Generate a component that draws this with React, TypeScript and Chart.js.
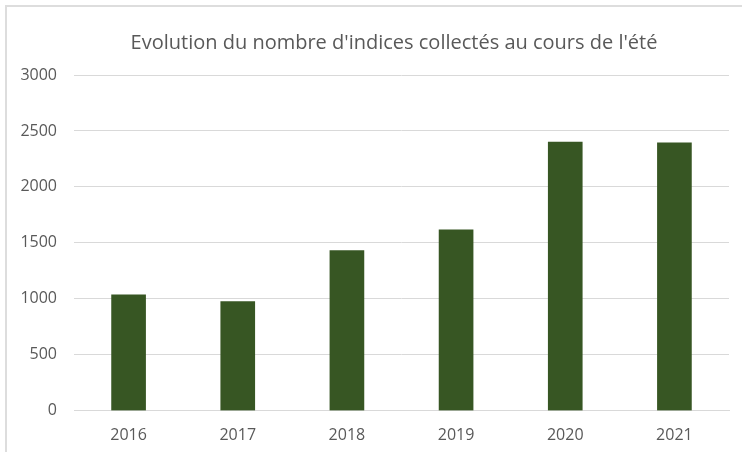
import React, { useEffect, useRef } from "react";
import { Chart, registerables } from "chart.js";

Chart.register(...registerables);

const titleText = "Evolution du nombre d'indices collectés au cours de l'été";
const years = ["2016", "2017", "2018", "2019", "2020", "2021"];
const indices = [1035, 976, 1430, 1617, 2400, 2394];
const yMin = 0;
const yMax = 3000;
const yStep = 500;

const FONT = "'Open Sans', 'Liberation Sans', sans-serif";
const TEXT = "#595959";
const GRID = "#d9d9d9";
const BAR = "#375623";

// Shifts the title box so that it is centred like the original chart's title
const titleShift = {
  id: "titleShift",
  afterLayout(chart: any) {
    const t = chart.titleBlock;
    if (!t) return;
    t.left = chart.chartArea.left - 15;
    t.right = chart.chartArea.right;
  },
};

export default function App() {
  const ref = useRef<HTMLCanvasElement | null>(null);

  useEffect(() => {
    if (!ref.current) return;
    const chart = new Chart(ref.current, {
      type: "bar",
      data: {
        labels: years,
        datasets: [
          {
            data: indices,
            backgroundColor: BAR,
            borderWidth: 0,
            barThickness: 34,
          },
        ],
      },
      options: {
        animation: false,
        responsive: false,
        maintainAspectRatio: false,
        layout: { padding: { left: 0, right: 13, top: 0, bottom: 0 } },
        plugins: {
          legend: { display: false },
          tooltip: { enabled: false },
          title: {
            display: true,
            text: titleText,
            color: TEXT,
            font: { family: FONT, size: 20, weight: "normal" },
            padding: { top: 31, bottom: 20 },
          },
        },
        scales: {
          x: {
            grid: { display: false, drawTicks: false },
            border: { display: true, color: GRID, width: 1 },
            ticks: {
              color: TEXT,
              font: { family: FONT, size: 16 },
              padding: 15,
            },
            afterFit: (s: any) => {
              s.height = 41.3;
            },
          },
          y: {
            min: yMin,
            max: yMax,
            grid: { color: GRID, lineWidth: 1, drawTicks: false },
            border: { display: false },
            ticks: {
              stepSize: yStep,
              color: TEXT,
              font: { family: FONT, size: 16 },
              padding: 17,
              callback: (v: any) => String(v),
            },
            afterFit: (s: any) => {
              s.width = 74;
            },
          },
        },
      },
      plugins: [titleShift],
    });
    return () => chart.destroy();
  }, []);

  return (
    <div
      style={{
        position: "fixed",
        left: 0,
        top: 0,
        width: 742,
        height: 452,
        overflow: "hidden",
        background: "#ffffff",
      }}
    >
      <canvas
        ref={ref}
        width={742}
        height={452}
        style={{ position: "absolute", left: 0, top: 0, width: 742, height: 452 }}
      />
      <div
        style={{
          position: "absolute",
          left: 5,
          top: 5,
          width: 800,
          height: 500,
          borderTop: "2px solid #dddddd",
          borderLeft: "2px solid #dddddd",
          pointerEvents: "none",
        }}
      />
    </div>
  );
}
